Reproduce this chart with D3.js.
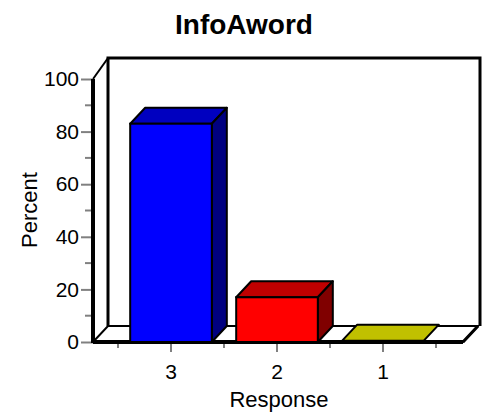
<!DOCTYPE html>
<html lang="en">
<head>
  <meta charset="UTF-8">
  <title>InfoAword</title>
  <script src="https://d3js.org/d3.v7.min.js"></script>
  <style>
    body { margin: 0; background: #fff; }
    text { font-family: "Liberation Sans", Arial, sans-serif; fill: #000; }
  </style>
</head>
<body>
  <svg width="488" height="412"></svg>
  <script>
  const categories = ["3", "2", "1"];
  const values = [83, 17, 0.5];
  const yTicks = [0, 20, 40, 60, 80, 100];
  const faceColors = [
    { front: "#0000ff", top: "#0000c0", side: "#000080" },
    { front: "#ff0000", top: "#c00000", side: "#800000" },
    { front: "#c0c000", top: "#c0c000", side: "#808000" }
  ];

  const svg = d3.select("svg");
  const dx = 15, dy = -16;   // depth offset
  const left = 93, right = 463;

  const x = d3.scaleBand().domain(categories).range([118, 436]).paddingInner(0.23).paddingOuter(0.115);
  const y = d3.scaleLinear().domain([0, 100]).range([342, 79]);
  const wallTop = y(100) + dy - 5;

  // back wall
  svg.append("rect")
    .attr("x", left + dx).attr("y", wallTop)
    .attr("width", right - left + 2).attr("height", y(0) + dy - wallTop)
    .attr("fill", "#fff");
  svg.append("path")
    .attr("d", `M${left + dx},${y(0) + dy} V${wallTop} H${right + dx + 2} V${y(0) + dy}`)
    .attr("fill", "none").attr("stroke", "#000").attr("stroke-width", 3);
  // left wall top edge
  svg.append("line")
    .attr("x1", left).attr("y1", y(100)).attr("x2", left + dx).attr("y2", wallTop)
    .attr("stroke", "#000").attr("stroke-width", 2);

  // floor
  svg.append("path")
    .attr("d", `M${left},${y(0)} L${left + dx},${y(0) + dy} H${right + dx} L${right},${y(0)} Z`)
    .attr("fill", "#fff").attr("stroke", "#000").attr("stroke-width", 2);
  svg.append("line")
    .attr("x1", left).attr("y1", y(0)).attr("x2", right).attr("y2", y(0))
    .attr("stroke", "#000").attr("stroke-width", 4);
  svg.append("line")
    .attr("x1", right).attr("y1", y(0)).attr("x2", right + dx).attr("y2", y(0) + dy)
    .attr("stroke", "#000").attr("stroke-width", 3);

  // bars
  const bars = svg.append("g").selectAll("g")
    .data(categories.map((c, i) => ({ c, v: values[i], col: faceColors[i] })))
    .join("g");
  const bw = x.bandwidth();
  bars.append("path") // top
    .attr("d", d => {
      const x0 = x(d.c), yt = y(d.v);
      return `M${x0},${yt} L${x0 + dx},${yt + dy} H${x0 + bw + dx} L${x0 + bw},${yt} Z`;
    })
    .attr("fill", d => d.col.top).attr("stroke", "#000").attr("stroke-width", 2)
    .attr("stroke-linejoin", "round");
  bars.filter(d => d.v > 2).append("path") // side
    .attr("d", d => {
      const x1 = x(d.c) + bw, yt = y(d.v), yb = y(0);
      return `M${x1},${yt} L${x1 + dx},${yt + dy} V${yb + dy} L${x1},${yb} Z`;
    })
    .attr("fill", d => d.col.side).attr("stroke", "#000").attr("stroke-width", 2)
    .attr("stroke-linejoin", "round");
  bars.filter(d => d.v > 2).append("rect") // front
    .attr("x", d => x(d.c)).attr("y", d => y(d.v))
    .attr("width", bw).attr("height", d => y(0) - y(d.v))
    .attr("fill", d => d.col.front).attr("stroke", "#000").attr("stroke-width", 2);

  // y axis
  const yAxis = svg.append("g").attr("transform", `translate(${left},0)`)
    .call(d3.axisLeft(y).tickValues(yTicks).tickSize(12).tickPadding(2));
  yAxis.select(".domain").remove();
  yAxis.selectAll(".tick line").attr("stroke", "#808080").attr("stroke-width", 2);
  yAxis.selectAll(".tick text").style("font-size", "21px");
  svg.append("g").attr("transform", `translate(${left},0)`)
    .selectAll("line").data(d3.range(10, 100, 20)).join("line")
    .attr("x1", -8).attr("x2", 0).attr("y1", d => y(d)).attr("y2", d => y(d))
    .attr("stroke", "#808080").attr("stroke-width", 2);
  svg.append("line")
    .attr("x1", left).attr("x2", left).attr("y1", y(100)).attr("y2", y(0) + 1)
    .attr("stroke", "#000").attr("stroke-width", 4);

  // x axis
  const xAxis = svg.append("g").attr("transform", `translate(0,${y(0) + 2})`)
    .call(d3.axisBottom(x).tickSize(8).tickPadding(12));
  xAxis.select(".domain").remove();
  xAxis.selectAll(".tick line").attr("stroke", "#808080").attr("stroke-width", 2);
  xAxis.selectAll(".tick text").style("font-size", "21px");
  svg.append("g").selectAll("line")
    .data([118, 224, 330, 436]).join("line")
    .attr("x1", d => d).attr("x2", d => d).attr("y1", y(0) + 2).attr("y2", y(0) + 6)
    .attr("stroke", "#808080").attr("stroke-width", 2);

  // titles
  svg.append("text").attr("x", 244).attr("y", 34).attr("text-anchor", "middle")
    .style("font-size", "28px").style("font-weight", "bold").text("InfoAword");
  svg.append("text").attr("x", 279).attr("y", 407).attr("text-anchor", "middle")
    .style("font-size", "22px").text("Response");
  svg.append("text").attr("transform", "translate(37,210) rotate(-90)")
    .attr("text-anchor", "middle").style("font-size", "22px").text("Percent");
  </script>
</body>
</html>
